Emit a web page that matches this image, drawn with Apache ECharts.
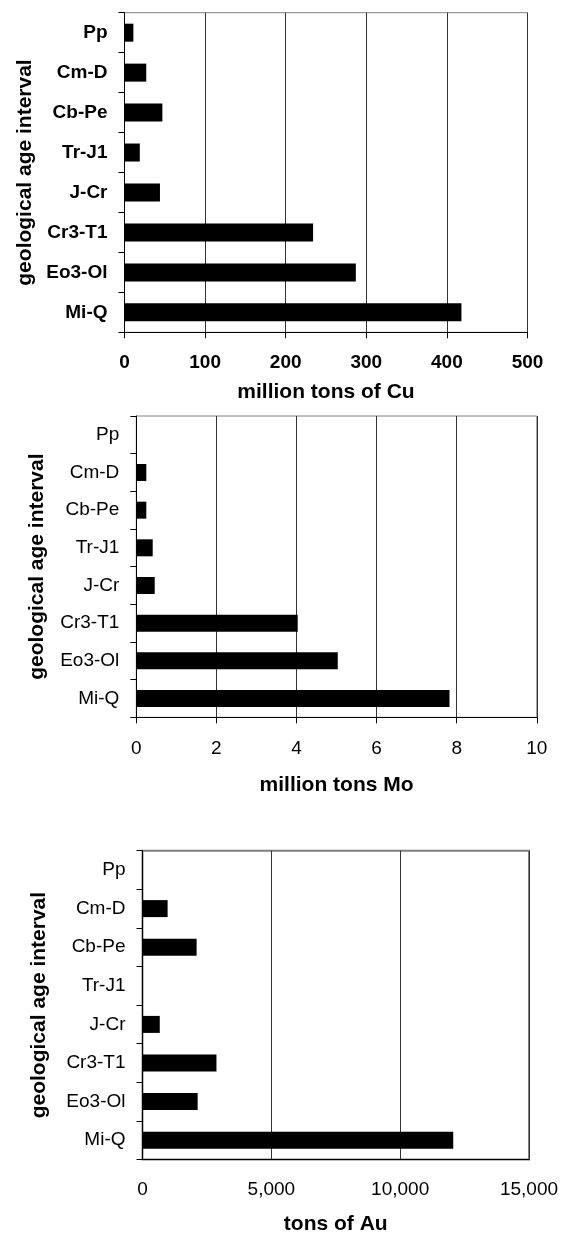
<!DOCTYPE html>
<html>
<head>
<meta charset="utf-8">
<script src="https://cdn.jsdelivr.net/npm/echarts@6/dist/echarts.min.js"></script>
<style>
  html, body { margin: 0; padding: 0; background: #fff; }
  #chart { width: 563px; height: 1236px; }
</style>
</head>
<body>
<div id="chart"></div>
<script>
// age intervals, top to bottom
const ageIntervals = ["Pp", "Cm-D", "Cb-Pe", "Tr-J1", "J-Cr", "Cr3-T1", "Eo3-Ol", "Mi-Q"];
// million tons of Cu
const copperValues = [11, 27, 47, 19, 44, 234, 287, 418];
// million tons Mo
const molyValues = [0, 0.25, 0.25, 0.41, 0.46, 4.03, 5.03, 7.82];
// tons of Au
const goldValues = [0, 975, 2100, 0, 670, 2870, 2140, 12060];

const copperTicks = { min: 0, max: 500, interval: 100 };
const molyTicks = { min: 0, max: 10, interval: 2 };
const goldTicks = { min: 0, max: 15000, interval: 5000 };

const FONT = "'Liberation Sans', Arial, sans-serif";

function xAxisFor(gridIndex, ticks, name, bold, showTick, labelMargin, nameGap, fmt) {
  return {
    gridIndex: gridIndex,
    type: "value",
    min: ticks.min,
    max: ticks.max,
    interval: ticks.interval,
    name: name,
    nameLocation: "middle",
    nameGap: nameGap,
    nameMoveOverlap: false,
    nameTextStyle: { fontFamily: FONT, fontSize: 21, fontWeight: "bold", color: "#000" },
    axisLine: { show: true, lineStyle: { color: "#000", width: 1 } },
    axisTick: { show: showTick, length: 6, lineStyle: { color: "#000" } },
    axisLabel: {
      fontFamily: FONT,
      fontSize: 19,
      fontWeight: bold ? "bold" : "normal",
      color: "#000",
      margin: labelMargin,
      formatter: fmt,
    },
    splitLine: { show: true, lineStyle: { color: "#333", width: 1 } },
  };
}

function yAxisFor(gridIndex, bold, nameGap) {
  return {
    gridIndex: gridIndex,
    type: "category",
    data: ageIntervals,
    inverse: true,
    name: "geological age interval",
    nameLocation: "middle",
    nameRotate: 90,
    nameGap: nameGap,
    nameMoveOverlap: false,
    nameTextStyle: { fontFamily: FONT, fontSize: 21, fontWeight: "bold", color: "#000" },
    axisLine: { show: true, lineStyle: { color: "#000", width: 1 } },
    axisTick: { show: true, length: 6, lineStyle: { color: "#000" } },
    axisLabel: {
      fontFamily: FONT,
      fontSize: 19,
      fontWeight: bold ? "bold" : "normal",
      color: "#000",
      margin: 17,
    },
    splitLine: { show: false },
  };
}

function barSeries(idx, values, barWidth) {
  return {
    type: "bar",
    xAxisIndex: idx,
    yAxisIndex: idx,
    data: values,
    barWidth: barWidth,
    itemStyle: { color: "#000" },
    silent: true,
  };
}

const chart = echarts.init(document.getElementById("chart"));

chart.setOption({
  animation: false,
  backgroundColor: "#fff",
  grid: [
    { left: 124.5, top: 12.7, width: 403, height: 319.6, show: true, borderColor: "#808080", borderWidth: 1 },
    { left: 136.3, top: 416, width: 400.5, height: 301.3, show: true, borderColor: "#808080", borderWidth: 1 },
    { left: 142.5, top: 850.7, width: 386.5, height: 309.3, show: true, borderColor: "#808080", borderWidth: 2 },
  ],
  xAxis: [
    xAxisFor(0, copperTicks, "million tons of Cu", true, true, 21, 49),
    xAxisFor(1, molyTicks, "million tons Mo", false, true, 21.5, 57.5),
    xAxisFor(2, goldTicks, "tons of Au", false, false, 20.5, 54.5, (v) => v.toLocaleString("en-US")),
  ],
  yAxis: [
    yAxisFor(0, true, 89),
    yAxisFor(1, false, 89),
    yAxisFor(2, false, 93),
  ],
  series: [
    barSeries(0, copperValues, 18),
    barSeries(1, molyValues, 17),
    barSeries(2, goldValues, 17),
  ],
});
</script>
</body>
</html>
